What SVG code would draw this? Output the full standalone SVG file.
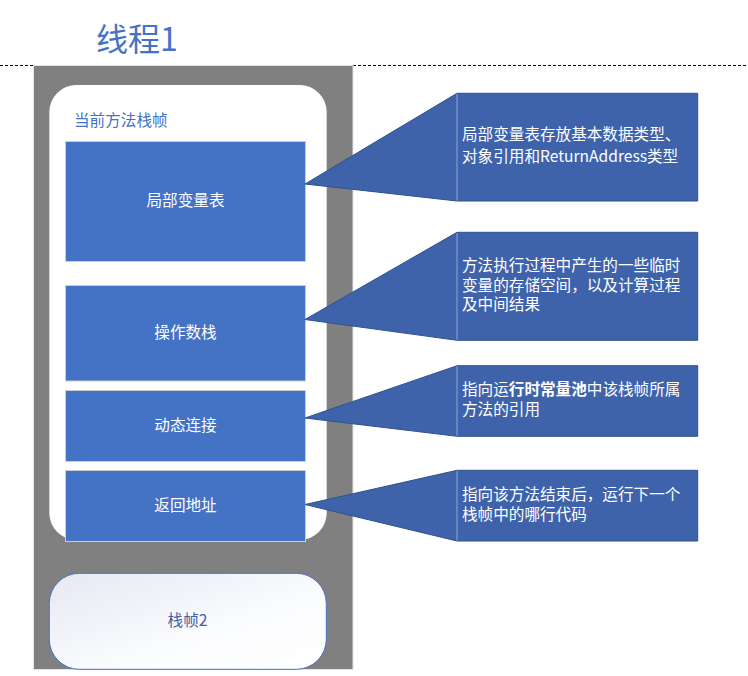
<svg xmlns="http://www.w3.org/2000/svg" width="748" height="676" viewBox="0 0 748 676">
<defs>
<style>
text{font-family:"Noto Sans CJK SC","Microsoft YaHei","Noto Sans",sans-serif;font-size:15.6px}
.box{fill:#4472C4;stroke:#C9CED8;stroke-width:1}
.bt{fill:#FFFFFF;text-anchor:middle}
.call{fill:#3E63AA;stroke:#2F528F;stroke-width:1}
.seam{stroke:#8FA6D4;stroke-width:1}
.ct{fill:#FFFFFF}
.dash{stroke:#000;stroke-width:1;stroke-dasharray:3 2}
</style>
<linearGradient id="g2" x1="0" y1="0" x2="1" y2="1">
<stop offset="0" stop-color="#E6E8F3"/>
<stop offset="0.6" stop-color="#FBFCFE"/>
<stop offset="1" stop-color="#FFFFFF"/>
</linearGradient>
</defs>
<rect width="748" height="676" fill="#FFFFFF"/>
<g id="title">
<text x="96" y="51" style="font-size:32px;fill:#4472C4">线程1</text>
</g>
<line class="dash" x1="0" y1="65.5" x2="34" y2="65.5"/>
<line class="dash" x1="353" y1="65.5" x2="748" y2="65.5"/>
<g id="thread">
<rect x="33.5" y="65.5" width="319.5" height="604" fill="#808080" stroke="#E4E4E4" stroke-width="1"/>
</g>
<g id="frame1">
<rect x="49.3" y="85" width="277.4" height="455" rx="27" ry="27" fill="#FFFFFF"/>
<text x="74" y="126" style="fill:#4472C4">当前方法栈帧</text>
</g>
<g id="locals">
<rect class="box" x="65.5" y="141.5" width="240" height="120"/>
<text class="bt" x="185.5" y="206">局部变量表</text>
</g>
<g id="operand">
<rect class="box" x="65.5" y="285.5" width="240" height="95.5"/>
<text class="bt" x="185.5" y="338">操作数栈</text>
</g>
<g id="dynlink">
<rect class="box" x="65.5" y="390.5" width="240" height="71"/>
<text class="bt" x="185.5" y="431">动态连接</text>
</g>
<g id="retaddr">
<rect class="box" x="65.5" y="470.5" width="240" height="71"/>
<text class="bt" x="185.5" y="511">返回地址</text>
</g>
<g id="frame2">
<rect x="49.3" y="573.3" width="277" height="96" rx="30" ry="30" fill="url(#g2)" stroke="#4472C4" stroke-width="1"/>
<text x="187.5" y="626" style="fill:#3F5FA3;text-anchor:middle">栈帧2</text>
</g>
<g id="connectors">
<g id="callout1">
<polygon class="call" points="305,184 457,93.3 697.7,93.3 697.7,201 457,201"/>
<line class="seam" x1="457" y1="94" x2="457" y2="200.5"/>
<text class="ct" x="462" y="140">局部变量表存放基本数据类型、</text>
<text class="ct" x="462" y="162">对象引用和ReturnAddress类型</text>
</g>
<g id="callout2">
<polygon class="call" points="305,319.5 457,232.3 697.7,232.3 697.7,340.3 457,340.3"/>
<line class="seam" x1="457" y1="233" x2="457" y2="339.8"/>
<text class="ct" x="462" y="271">方法执行过程中产生的一些临时</text>
<text class="ct" x="462" y="291">变量的存储空间，以及计算过程</text>
<text class="ct" x="462" y="310">及中间结果</text>
</g>
<g id="callout3">
<polygon class="call" points="305,418 457,365.7 697.7,365.7 697.7,436.3 457,436.3"/>
<line class="seam" x1="457" y1="366.3" x2="457" y2="435.8"/>
<text class="ct" x="462" y="395">指向运<tspan font-weight="bold">行时常量池</tspan>中该栈帧所属</text>
<text class="ct" x="462" y="415">方法的引用</text>
</g>
<g id="callout4">
<polygon class="call" points="305,504.5 457,470.3 697.7,470.3 697.7,541 457,541"/>
<line class="seam" x1="457" y1="471" x2="457" y2="540.5"/>
<text class="ct" x="462" y="500">指向该方法结束后，运行下一个</text>
<text class="ct" x="462" y="520">栈帧中的哪行代码</text>
</g>
</g>
</svg>
